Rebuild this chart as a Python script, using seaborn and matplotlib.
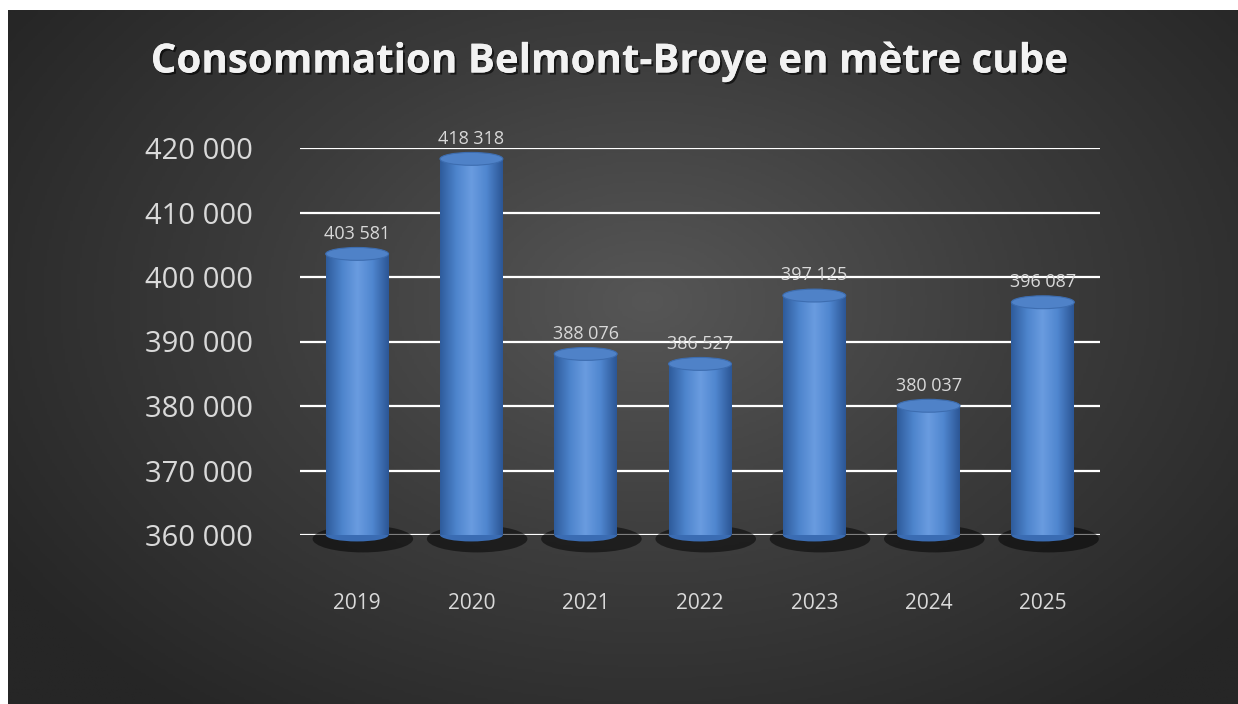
import numpy as np
import matplotlib.pyplot as plt
import matplotlib.patheffects as pe
import seaborn as sns
from matplotlib.patches import Ellipse
from matplotlib.colors import LinearSegmentedColormap

# data
years = ['2019', '2020', '2021', '2022', '2023', '2024', '2025']
consumption = [403581, 418318, 388076, 386527, 397125, 380037, 396087]
y_ticks = [360000, 370000, 380000, 390000, 400000, 410000, 420000]
title = 'Consommation Belmont-Broye en mètre cube'


def fmt(v):
    return f'{v:,}'.replace(',', ' ')


sns.set_theme(style='dark')
plt.rcParams['font.family'] = ['Open Sans', 'DejaVu Sans']

W, H = 1238, 704
fig = plt.figure(figsize=(W / 100, H / 100), dpi=100)
fig.patch.set_facecolor('white')

# dark radial background panel
bg = fig.add_axes([8 / W, 0, (W - 8) / W, (H - 10) / H])
yy, xx = np.mgrid[0:1:300j, 0:1:500j]
r = np.sqrt(((xx - 0.52) / 0.62) ** 2 + ((yy - 0.42) / 0.75) ** 2)
bg_cmap = LinearSegmentedColormap.from_list('bg', ['#565656', '#3c3c3c', '#262626'])
bg.imshow(r, cmap=bg_cmap, vmin=0, vmax=1, aspect='auto', extent=[0, 1, 0, 1])
bg.axis('off')

# main chart
ax = fig.add_axes([300 / W, (H - 535) / H, 800 / W, (535 - 148) / H])
ax.patch.set_alpha(0)
sns.barplot(x=years, y=consumption, ax=ax, color='#4a7fc8', width=0.55,
            saturation=1, linewidth=0, edgecolor='none', zorder=3)
ax.set_ylim(360000, 420000)
xlim = ax.get_xlim()

cyl = LinearSegmentedColormap.from_list(
    'cyl', ['#2f5c9c', '#4d84cc', '#6a9ce0', '#4f86cf', '#2c5796'])
grad = np.linspace(0, 1, 64).reshape(1, -1)
cap_h = 2000
for p in ax.patches[:len(years)]:
    x0, w, top = p.get_x(), p.get_width(), p.get_height() + p.get_y()
    cx = x0 + w / 2
    # shadow at the base
    ax.add_patch(Ellipse((cx + 0.05, 360000 - 600), w * 1.6, 4200, color='black',
                         alpha=0.5, clip_on=False, zorder=2, lw=0))
    # rounded base of the cylinder
    ax.add_patch(Ellipse((cx, 360000), w, cap_h, color='#3a6cb3', clip_on=False,
                         zorder=3, lw=0))
    im = ax.imshow(grad, cmap=cyl, aspect='auto', extent=[x0, x0 + w, 360000, top],
                   zorder=4, clip_on=True)
    im.set_clip_path(p)
    # top cap
    ax.add_patch(Ellipse((cx, top), w, cap_h, facecolor='#4f82c8',
                         edgecolor='#3d6db0', lw=0.8, zorder=5))

ax.set_xlim(xlim)
ax.set_ylim(360000, 420000)

ax.bar_label(ax.containers[0], labels=[fmt(v) for v in consumption], padding=8,
             color='#d9d9d9', fontsize=13, zorder=6)

ax.set_yticks(y_ticks)
ax.set_yticklabels([fmt(v) for v in y_ticks])
ax.yaxis.grid(True, color='white', linewidth=1.6)
ax.xaxis.grid(False)
ax.set_axisbelow(True)
for s in ax.spines.values():
    s.set_visible(False)
ax.tick_params(axis='y', colors='#d9d9d9', labelsize=21, pad=34, length=0)
ax.tick_params(axis='x', colors='#d9d9d9', labelsize=15, pad=42, length=0)
ax.set_xlabel('')
ax.set_ylabel('')

fig.text(608 / W, (H - 62) / H, title, ha='center', va='center', fontsize=29,
         fontweight='bold', color='#f2f2f2',
         path_effects=[pe.withSimplePatchShadow(offset=(1.5, -1.5), shadow_rgbFace='black',
                                                alpha=0.6), pe.Normal()])

fig.savefig('out.png', dpi=100)
